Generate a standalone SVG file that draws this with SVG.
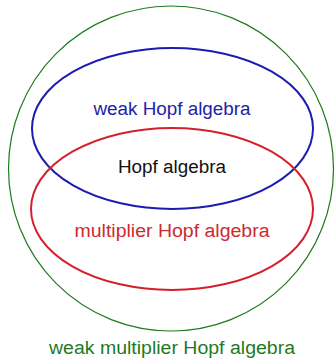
<svg xmlns="http://www.w3.org/2000/svg" width="335" height="360" viewBox="0 0 335 360">
<style>
text{font-family:"Liberation Sans",Arial,sans-serif;font-size:18px;text-anchor:middle}
.set{fill:none}
</style>
<rect width="335" height="360" fill="#fff"/>
<g id="weak-multiplier">
<ellipse class="set" cx="171" cy="168.5" rx="162.5" ry="162.5" stroke="#1f7a1f" stroke-width="1.2"/>
<text x="172" y="354" fill="#1f7a1f" textLength="246" lengthAdjust="spacingAndGlyphs">weak multiplier Hopf algebra</text>
</g>
<g id="weak">
<ellipse class="set" cx="172.5" cy="128.5" rx="140.5" ry="80.5" stroke="#1c1cb0" stroke-width="2"/>
<text x="172" y="115" fill="#2222a8" textLength="157" lengthAdjust="spacingAndGlyphs">weak Hopf algebra</text>
</g>
<g id="multiplier">
<ellipse class="set" cx="172" cy="209" rx="141" ry="81" stroke="#d4202c" stroke-width="2"/>
<text x="172" y="237" fill="#cc2a30" textLength="195" lengthAdjust="spacingAndGlyphs">multiplier Hopf algebra</text>
</g>
<g id="hopf">
<text x="172" y="173" fill="#111" textLength="108" lengthAdjust="spacingAndGlyphs">Hopf algebra</text>
</g>
<g id="connectors"/>
</svg>
